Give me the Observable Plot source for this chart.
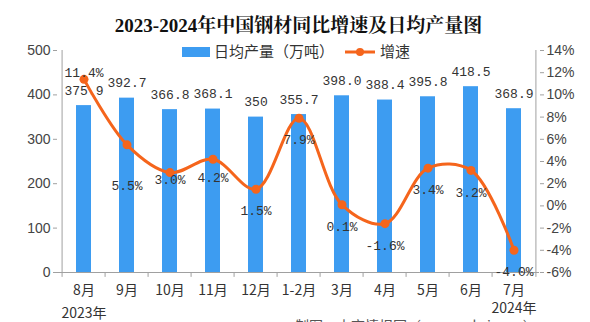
<!DOCTYPE html>
<html>
<head>
<meta charset="utf-8">
<script src="https://cdn.jsdelivr.net/npm/d3@7"></script>
<script src="https://cdn.jsdelivr.net/npm/@observablehq/plot@0.6"></script>
<style>
  html, body { margin: 0; padding: 0; background: #fff; overflow: hidden; }
</style>
</head>
<body>
<div id="chart"></div>
<script>
// ---- data ----
const categories = ["8月", "9月", "10月", "11月", "12月", "1-2月", "3月", "4月", "5月", "6月", "7月"];
const output = [375.9, 392.7, 366.8, 368.1, 350, 355.7, 398.0, 388.4, 395.8, 418.5, 368.9];
const outputLabels = ["375.9", "392.7", "366.8", "368.1", "350", "355.7", "398.0", "388.4", "395.8", "418.5", "368.9"];
const growth = [11.4, 5.5, 3.0, 4.2, 1.5, 7.9, 0.1, -1.6, 3.4, 3.2, -4.0];
const growthLabels = ["11.4%", "5.5%", "3.0%", "4.2%", "1.5%", "7.9%", "0.1%", "-1.6%", "3.4%", "3.2%", "-4.0%"];
const leftTicks = [0, 100, 200, 300, 400, 500];
const rightTicks = [-6, -4, -2, 0, 2, 4, 6, 8, 10, 12, 14];
const yearLabels = [{cat: "8月", text: "2023年"}, {cat: "7月", text: "2024年"}];
const title = "2023-2024年中国钢材同比增速及日均产量图";
const legendBar = "日均产量（万吨）";
const legendLine = "增速";
const source = "制图：中商情报网（www.askci.com）";

// ---- layout ----
const W = 590, H = 322;
const mL = 57, mR = 51, mT = 50, mB = 50;
const step = (W - mL - mR) / categories.length;
const barColor = "#3d9cf1";
const lineColor = "#f5651c";
const monoFont = "'Liberation Mono', 'DejaVu Sans Mono', monospace";
const cjkFont = "'Noto Sans CJK SC', sans-serif";

// secondary axis: -6%..14% maps onto 0..500
const pctToY = p => (p + 6) * 25;

const rows = categories.map((c, i) => ({
  cat: c, out: output[i], outLabel: outputLabels[i],
  pct: growth[i], pctLabel: growthLabels[i]
}));

// label vertical offsets (label layout only)
const specialDy = {"11.4%": -7, "5.5%": 41, "3.0%": 7, "4.2%": 19};
const dyOf = d => specialDy[d.pctLabel] ?? 22;
const dyGroups = Array.from(new Set(rows.map(dyOf)));

const plot = Plot.plot({
  width: W, height: H,
  marginLeft: mL, marginRight: mR, marginTop: mT, marginBottom: mB,
  style: {background: "#fff", color: "#444"},
  x: {type: "band", domain: categories, padding: 0, label: null},
  y: {domain: [0, 500], label: null},
  marks: [
    Plot.barY(rows, {x: "cat", y: "out", fill: barColor, insetLeft: 14, insetRight: 14}),
    // axis lines
    Plot.ruleY([0], {stroke: "#a0a0a0"}),
    Plot.ruleX([categories[0]], {dx: -step / 2, y1: -11, y2: 500, stroke: "#a0a0a0"}),
    Plot.ruleX([categories[categories.length - 1]], {dx: step / 2, y1: -11, y2: 500, stroke: "#a0a0a0"}),
    Plot.ruleX(categories.slice(1), {x: d => d, dx: -step / 2, y1: -11, y2: 0, stroke: "#a0a0a0"}),
    Plot.axisY({anchor: "left", ticks: leftTicks, tickSize: 4, tickPadding: 3, fontSize: 14,
      fontFamily: "'Liberation Sans', Arial, sans-serif", stroke: "#a0a0a0", fill: "#444"}),
    Plot.axisY({anchor: "right", ticks: rightTicks.map(pctToY), tickSize: 4, tickPadding: 3, fontSize: 14,
      fontFamily: "'Liberation Sans', Arial, sans-serif", stroke: "#a0a0a0", fill: "#444",
      tickFormat: v => Math.round(v / 25 - 6) + "%"}),
    Plot.axisX({tickSize: 0, tickPadding: 13, fontSize: 14, fontFamily: cjkFont, fill: "#333"}),
    Plot.text(yearLabels.slice(0, 1), {x: "cat", text: "text", frameAnchor: "bottom", dy: 45, fontSize: 14,
      fontFamily: cjkFont, fill: "#333"}),
    Plot.text(yearLabels.slice(1), {x: "cat", text: "text", frameAnchor: "bottom", dy: 40, fontSize: 14,
      fontFamily: cjkFont, fill: "#333"}),
    // bar value labels
    Plot.text(rows, {x: "cat", y: "out", text: "outLabel", dy: -15, fontSize: 13,
      fontFamily: monoFont, fill: "#333"}),
    // growth line
    Plot.line(rows, {x: "cat", y: d => pctToY(d.pct), curve: "catmull-rom", stroke: lineColor, strokeWidth: 3}),
    Plot.dot(rows, {x: "cat", y: d => pctToY(d.pct), r: 4.5, fill: lineColor}),
    ...dyGroups.map(g => Plot.text(rows.filter(d => dyOf(d) === g),
      {x: "cat", y: d => pctToY(d.pct), text: "pctLabel", dy: g, fontSize: 13,
       fontFamily: monoFont, fill: "#333"})),
    // title
    Plot.text([title], {frameAnchor: "top", dy: -32, fontSize: 19, fontWeight: "bold",
      fontFamily: "'Liberation Serif', 'Noto Serif CJK SC', 'Noto Sans CJK SC', serif", fill: "#111"})
  ]
});

// legend and source (non-data decorations)
const svg = d3.select(plot);
const lg = svg.append("g").attr("font-family", cjkFont).attr("font-size", 15)
  .attr("fill", "#333").attr("text-anchor", "start");
lg.append("rect").attr("x", 182).attr("y", 47).attr("width", 28).attr("height", 10).attr("fill", barColor);
lg.append("text").attr("x", 214).attr("y", 52).attr("dy", "0.35em").text(legendBar);
lg.append("line").attr("x1", 345).attr("x2", 375).attr("y1", 52).attr("y2", 52).attr("stroke", lineColor).attr("stroke-width", 3);
lg.append("circle").attr("cx", 360).attr("cy", 52).attr("r", 4).attr("fill", lineColor);
lg.append("text").attr("x", 380).attr("y", 52).attr("dy", "0.35em").text(legendLine);
svg.append("text").attr("x", 295).attr("y", 331).attr("font-size", 14).attr("text-anchor", "start")
  .attr("font-family", cjkFont).attr("fill", "#555").text(source);

document.getElementById("chart").appendChild(plot);
</script>
</body>
</html>
